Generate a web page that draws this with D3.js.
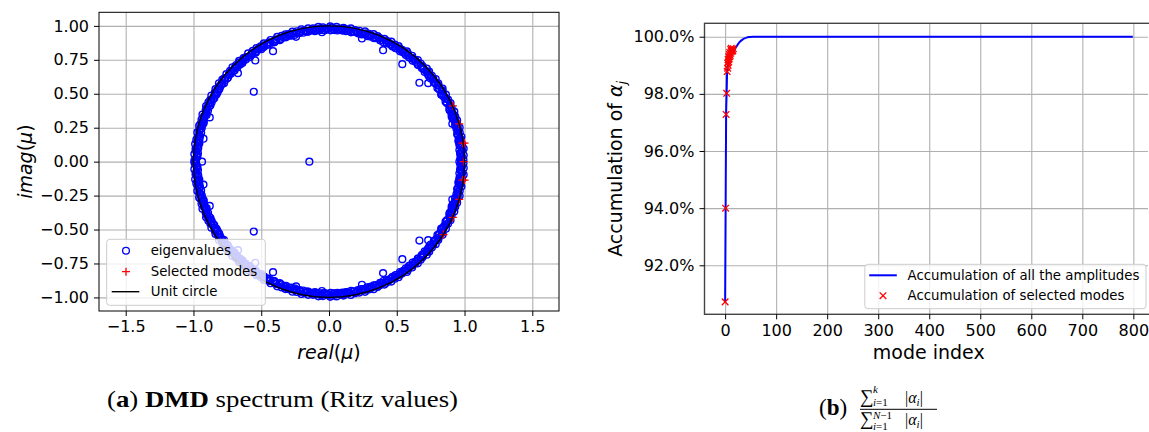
<!DOCTYPE html>
<html>
<head>
<meta charset="utf-8">
<script src="https://cdn.jsdelivr.net/npm/d3@7"></script>
<style>
  body { margin: 0; background: #fff; }
  svg { display: block; }
  .tick text { font-family: "DejaVu Sans", sans-serif; font-size: 16px; fill: #000; }
</style>
</head>
<body>
<svg id="fig" width="1149" height="432"></svg>
<script>
// ---------- panel (a) data: DMD eigenvalues (upper half, conjugates mirrored) ----------
const ringDeg = [
  0.8, 1.9, 2.7, 3.6, 4.8, 5.5, 6.9, 7.6, 8.8, 9.7, 10.6, 11.9, 12.5, 13.8, 14.6, 15.9, 16.7, 17.8, 18.9, 19.6,
  20.8, 21.7, 22.9, 23.6, 24.8, 25.7, 26.9, 27.5, 28.7, 29.8, 30.6, 31.9, 32.7, 33.5, 34.8, 35.6, 36.9, 37.7, 38.5, 39.8,
  40.6, 41.9, 42.7, 43.5, 44.8, 45.6, 46.9, 47.5, 48.8, 49.7, 50.6, 51.8, 52.5, 53.9, 54.7, 55.6, 56.8, 57.5, 58.9, 59.7,
  60.6, 61.8, 62.5, 63.9, 64.6, 65.7, 66.9, 67.6, 68.8, 69.5, 70.7, 71.9, 72.6, 73.8, 74.5, 75.7, 76.9, 77.6, 78.8, 79.5,
  80.7, 81.9, 82.6, 83.8, 84.5, 85.7, 86.8, 87.6, 88.9, 89.5, 90.7, 91.8, 92.6, 93.9, 94.5, 95.7, 96.8, 97.6, 98.9, 99.5,
  100.7, 101.8, 102.6, 103.9, 104.5, 105.7, 106.8, 107.6, 108.9, 109.5, 110.7, 111.8, 112.6, 113.9, 114.6, 115.7, 116.8, 117.6, 118.9, 119.5,
  120.7, 121.8, 122.6, 123.9, 124.6, 125.7, 126.8, 127.5, 128.9, 129.6, 130.7, 131.8, 132.5, 133.9, 134.6, 135.7, 136.8, 137.5, 138.9, 139.6,
  140.7, 141.8, 142.5, 143.9, 144.6, 145.7, 146.8, 147.5, 148.9, 149.6, 150.7, 151.8, 152.5, 153.9, 154.6, 155.7, 156.8, 157.5, 158.9, 159.6,
  160.7, 161.8, 162.5, 163.9, 164.6, 165.7, 166.8, 167.5, 168.9, 169.6, 170.7, 171.8, 172.5, 173.9, 174.6, 175.7, 176.8, 177.5, 178.9, 179.6
];
const ringMod = [
  0.992,0.978,0.995,0.969,0.986,0.998,0.975,0.990,0.968,0.983,
  0.994,0.971,0.988,0.980,0.996,0.970,0.985,0.993,0.974,0.989,
  0.979,0.995,0.968,0.987,0.982,0.995,0.972,0.990,0.977,0.994,
  0.969,0.986,0.996,0.973,0.984,0.991,0.970,0.995,0.981,0.988,
  0.970,0.993,0.979,0.995,0.975,0.986,0.990,0.971,0.995,0.983,
  0.978,0.992,0.969,0.988,0.995,0.974,0.985,0.980,0.994,0.969,
  0.989,0.976,0.996,0.972,0.987,0.993,0.970,0.984,0.991,0.979,
  0.995,0.970,0.986,0.982,0.995,0.968,0.990,0.977,0.988,0.973,
  0.995,0.981,0.969,0.992,0.985,0.975,0.994,0.970,0.987,0.996,
  0.978,0.969,0.991,0.983,0.995,0.972,0.988,0.980,0.993,0.970,
  0.985,0.996,0.974,0.989,0.979,0.995,0.969,0.986,0.992,0.976,
  0.990,0.971,0.995,0.982,0.968,0.994,0.984,0.977,0.995,0.973,
  0.987,0.980,0.993,0.969,0.991,0.978,0.996,0.970,0.985,0.989,
  0.975,0.995,0.970,0.988,0.983,0.995,0.972,0.990,0.979,0.994,
  0.969,0.986,0.992,0.974,0.996,0.981,0.969,0.993,0.984,0.977,
  0.995,0.971,0.987,0.991,0.968,0.995,0.980,0.985,0.973,0.996,
  0.976,0.990,0.969,0.988,0.994,0.978,0.983,0.995,0.970,0.986,
  0.992,0.975,0.996,0.970,0.989,0.981,0.995,0.972,0.987,0.993
];
const ringDeg2 = [
  0.3, 1.3, 2.2, 3.1, 4.2, 5.1, 6.3, 7.2, 8.1, 9.3, 10.2, 11.3, 12.1, 13.2, 14.3, 15.2, 16.1, 17.3, 18.2, 19.1,
  20.3, 21.2, 22.1, 23.3, 24.2, 25.1, 26.3, 27.2, 28.1, 29.3, 30.2, 31.1, 32.3, 33.2, 34.1, 35.3, 36.2, 37.1, 38.3, 39.2,
  40.1, 41.3, 42.2, 43.1, 44.3, 45.2, 46.1, 47.3, 48.2, 49.1, 50.3, 51.2, 52.1, 53.3, 54.2, 55.1, 56.3, 57.2, 58.1, 59.3,
  60.2, 61.1, 62.3, 63.2, 64.1, 65.3, 66.2, 67.1, 68.3, 69.2, 70.1, 71.3, 72.2, 73.1, 74.3, 75.2, 76.1, 77.3, 78.2, 79.1,
  80.3, 81.2, 82.1, 83.3, 84.2, 85.1, 86.3, 87.2, 88.1, 89.3, 90.2, 91.1, 92.3, 93.2, 94.1, 95.3, 96.2, 97.1, 98.3, 99.2,
  100.1, 101.3, 102.2, 103.1, 104.3, 105.2, 106.1, 107.3, 108.2, 109.1, 110.3, 111.2, 112.1, 113.3, 114.2, 115.1, 116.3, 117.2, 118.1, 119.3,
  120.2, 121.1, 122.3, 123.2, 124.1, 125.3, 126.2, 127.1, 128.3, 129.2, 130.1, 131.3, 132.2, 133.1, 134.3, 135.2, 136.1, 137.3, 138.2, 139.1,
  140.3, 141.2, 142.1, 143.3, 144.2, 145.1, 146.3, 147.2, 148.1, 149.3, 150.2, 151.1, 152.3, 153.2, 154.1, 155.3, 156.2, 157.1, 158.3, 159.2,
  160.1, 161.3, 162.2, 163.1, 164.3, 165.2, 166.1, 167.3, 168.2, 169.1, 170.3, 171.2, 172.1, 173.3, 174.2, 175.1, 176.3, 177.2, 178.1, 179.3
];
const ringMod2 = [
  0.975,0.969,0.981,0.972,0.978,0.966,0.983,0.970,0.976,0.968,
  0.980,0.973,0.967,0.979,0.971,0.984,0.969,0.977,0.974,0.966,
  0.982,0.970,0.978,0.968,0.975,0.985,0.971,0.967,0.980,0.973,
  0.976,0.969,0.983,0.972,0.966,0.979,0.974,0.970,0.981,0.968,
  0.977,0.972,0.984,0.967,0.975,0.971,0.980,0.969,0.978,0.973,
  0.966,0.982,0.970,0.976,0.968,0.979,0.974,0.967,0.983,0.971,
  0.977,0.969,0.975,0.981,0.972,0.966,0.978,0.970,0.984,0.973,
  0.968,0.980,0.975,0.967,0.979,0.971,0.976,0.969,0.982,0.974,
  0.966,0.978,0.972,0.985,0.970,0.977,0.968,0.981,0.973,0.967,
  0.979,0.975,0.969,0.983,0.971,0.976,0.966,0.980,0.974,0.970,
  0.978,0.968,0.982,0.972,0.975,0.967,0.979,0.973,0.984,0.969,
  0.977,0.971,0.966,0.981,0.974,0.970,0.978,0.968,0.976,0.983,
  0.972,0.967,0.980,0.975,0.969,0.979,0.973,0.966,0.982,0.971,
  0.977,0.968,0.985,0.974,0.970,0.978,0.967,0.981,0.972,0.976,
  0.969,0.983,0.973,0.966,0.979,0.975,0.971,0.980,0.968,0.977,
  0.974,0.967,0.982,0.970,0.978,0.972,0.984,0.969,0.976,0.966,
  0.981,0.973,0.979,0.968,0.975,0.971,0.983,0.967,0.977,0.974,
  0.970,0.980,0.966,0.978,0.972,0.985,0.969,0.976,0.973,0.981
];
// eigenvalues away from the ring: [real, imag], imag >= 0
const innerEig = [
  [-0.052,0.953],[-0.243,0.919],[-0.413,0.814],[-0.544,0.745],[-0.672,0.652],
  [-0.555,0.515],[-0.830,0.495],[-0.880,0.326],[-0.926,0.169],[0.098,0.973],
  [0.243,0.907],[0.399,0.821],[0.541,0.718],[0.667,0.581],[0.732,0.578],
  [0.828,0.493],[0.891,0.385],[0.905,0.331],[0.910,0.279],[0.962,0.135],
  [-0.937,0.0],[-0.145,0.0],[0.962,0.0]
];
const selectedModes = [
  [0.914,0.411],[0.961,0.278],[0.985,0.136],[1.000,0.136],[0.993,0.0],
  [0.985,-0.136],[1.000,-0.136],[0.961,-0.278],[0.914,-0.411],[0.845,-0.537]
];
const xTicksA = [-1.5, -1.0, -0.5, 0.0, 0.5, 1.0, 1.5];
const yTicksA = [-1.0, -0.75, -0.5, -0.25, 0.0, 0.25, 0.5, 0.75, 1.0];

// ---------- panel (b) data: accumulated amplitude ----------
const modeIdx  = [0, 1, 2, 3, 4, 5, 6, 8, 10, 12, 14, 16, 18, 20, 23, 26, 30, 34, 38, 42, 48, 55, 100, 200, 300, 400, 500, 600, 700, 799];
const accumAll = [90.72, 94.0, 97.28, 98.02, 98.78, 98.95, 99.05, 99.18, 99.27, 99.34, 99.40, 99.46, 99.53, 99.60, 99.68, 99.76, 99.84, 99.90, 99.94, 99.97, 99.99, 100.0, 100.0, 100.0, 100.0, 100.0, 100.0, 100.0, 100.0, 100.0];
const selIdx   = [0, 1, 2, 3, 4, 5, 6, 5, 7, 6, 8, 7, 9, 10, 8, 11, 9, 12, 13, 11, 14, 15, 12, 16];
const selAccum = [90.72, 94.0, 97.28, 98.02, 98.78, 98.9, 99.0, 99.08, 99.12, 99.2, 99.22, 99.3, 99.3, 99.35, 99.38, 99.42, 99.45, 99.48, 99.5, 99.55, 99.55, 99.5, 99.6, 99.58];
const xTicksB = [0, 100, 200, 300, 400, 500, 600, 700, 800];
const yTicksB = [92, 94, 96, 98, 100];

const svg = d3.select("#fig");
const sans = '"DejaVu Sans", sans-serif';
const serif = '"Liberation Serif", "DejaVu Serif", serif';
const gridColor = "#b0b0b0";

function styleAxis(g) {
  g.select(".domain").remove();
  g.selectAll(".tick line").attr("stroke", "#000").attr("stroke-width", 1);
}
function gridAxis(g) {
  g.select(".domain").remove();
  g.selectAll(".tick line").attr("stroke", gridColor).attr("stroke-width", 1.1);
}

// ================= panel (a) =================
const A = {left: 99, right: 559, top: 12.3, bottom: 311};
const xa = d3.scaleLinear().domain([-1.697, 1.697]).range([A.left, A.right]);
const ya = d3.scaleLinear().domain([-1.1, 1.1]).range([A.bottom, A.top]);

svg.append("clipPath").attr("id", "clipA").append("rect")
  .attr("x", A.left).attr("y", A.top).attr("width", A.right - A.left).attr("height", A.bottom - A.top);

const ga = svg.append("g");
ga.append("g").attr("transform", `translate(0,${A.bottom})`)
  .call(d3.axisBottom(xa).tickValues(xTicksA).tickSize(-(A.bottom - A.top)).tickFormat(""))
  .call(gridAxis);
ga.append("g").attr("transform", `translate(${A.left},0)`)
  .call(d3.axisLeft(ya).tickValues(yTicksA).tickSize(-(A.right - A.left)).tickFormat(""))
  .call(gridAxis);

let eig = [];
d3.zip(ringDeg, ringMod).concat(d3.zip(ringDeg2, ringMod2)).forEach(([deg, m]) => {
  const t = deg * Math.PI / 180;
  eig.push([m * Math.cos(t), m * Math.sin(t)]);
  eig.push([m * Math.cos(t), -m * Math.sin(t)]);
});
innerEig.forEach(([re, im]) => {
  eig.push([re, im]);
  if (im !== 0) eig.push([re, -im]);
});

const plotA = ga.append("g").attr("clip-path", "url(#clipA)");
plotA.selectAll("circle.eig").data(eig).enter().append("circle")
  .attr("class", "eig")
  .attr("cx", d => xa(d[0])).attr("cy", d => ya(d[1])).attr("r", 3.4)
  .attr("fill", "none").attr("stroke", "#0000ff").attr("stroke-width", 1.4);

function plusPath(cx, cy, s) {
  return `M${cx - s},${cy}H${cx + s}M${cx},${cy - s}V${cy + s}`;
}
plotA.selectAll("path.sel").data(selectedModes).enter().append("path")
  .attr("class", "sel")
  .attr("d", d => plusPath(xa(d[0]), ya(d[1]), 4))
  .attr("stroke", "#ff0000").attr("stroke-width", 1.3).attr("fill", "none");

plotA.append("ellipse")
  .attr("cx", xa(0)).attr("cy", ya(0))
  .attr("rx", xa(1) - xa(0)).attr("ry", ya(0) - ya(1))
  .attr("fill", "none").attr("stroke", "#000").attr("stroke-width", 1.4);

ga.append("rect")
  .attr("x", A.left).attr("y", A.top).attr("width", A.right - A.left).attr("height", A.bottom - A.top)
  .attr("fill", "none").attr("stroke", "#000").attr("stroke-width", 1);

ga.append("g").attr("transform", `translate(0,${A.bottom})`)
  .call(d3.axisBottom(xa).tickValues(xTicksA).tickFormat(d3.format(".1f")).tickSize(5).tickPadding(5))
  .call(styleAxis);
ga.append("g").attr("transform", `translate(${A.left},0)`)
  .call(d3.axisLeft(ya).tickValues(yTicksA).tickFormat(d3.format(".2f")).tickSize(5).tickPadding(5))
  .call(styleAxis);

// axis labels
const xlabA = ga.append("text").attr("x", (A.left + A.right) / 2).attr("y", 359)
  .attr("text-anchor", "middle").attr("font-family", sans).attr("font-size", 19);
xlabA.append("tspan").attr("font-style", "italic").text("real");
xlabA.append("tspan").text("(");
xlabA.append("tspan").attr("font-style", "italic").text("μ");
xlabA.append("tspan").text(")");

const ylabA = ga.append("text").attr("transform", `translate(32,${(A.top + A.bottom) / 2}) rotate(-90)`)
  .attr("text-anchor", "middle").attr("font-family", sans).attr("font-size", 19);
ylabA.append("tspan").attr("font-style", "italic").text("imag");
ylabA.append("tspan").text("(");
ylabA.append("tspan").attr("font-style", "italic").text("μ");
ylabA.append("tspan").text(")");

// legend (a)
const legA = ga.append("g");
legA.append("rect").attr("x", 106.7).attr("y", 239.3).attr("width", 158.6).attr("height", 66).attr("rx", 3)
  .attr("fill", "#fff").attr("fill-opacity", 0.8).attr("stroke", "#cccccc").attr("stroke-width", 1);
legA.append("circle").attr("cx", 126).attr("cy", 250.7).attr("r", 3.4)
  .attr("fill", "none").attr("stroke", "#0000ff").attr("stroke-width", 1.3);
legA.append("path").attr("d", plusPath(126, 271.7, 4)).attr("stroke", "#ff0000").attr("stroke-width", 1.3);
legA.append("line").attr("x1", 111.7).attr("x2", 139.3).attr("y1", 291.7).attr("y2", 291.7)
  .attr("stroke", "#000").attr("stroke-width", 1.4);
[["eigenvalues", 250.7], ["Selected modes", 271.7], ["Unit circle", 291.7]].forEach(([t, y]) => {
  legA.append("text").attr("x", 150.7).attr("y", y).attr("dy", "0.36em")
    .attr("font-family", sans).attr("font-size", 13.3).text(t);
});

// ================= panel (b) =================
const B = {left: 704.5, right: 1148, top: 23.3, bottom: 314.3};
const xb = d3.scaleLinear().domain([-40.4, 828.7]).range([B.left, B.right]);
const yb = d3.scaleLinear().domain([90.285, 100.47]).range([B.bottom, B.top]);

svg.append("clipPath").attr("id", "clipB").append("rect")
  .attr("x", B.left).attr("y", B.top).attr("width", B.right - B.left).attr("height", B.bottom - B.top);

const gb = svg.append("g");
gb.append("g").attr("transform", `translate(0,${B.bottom})`)
  .call(d3.axisBottom(xb).tickValues(xTicksB).tickSize(-(B.bottom - B.top)).tickFormat(""))
  .call(gridAxis);
gb.append("g").attr("transform", `translate(${B.left},0)`)
  .call(d3.axisLeft(yb).tickValues(yTicksB).tickSize(-(B.right - B.left)).tickFormat(""))
  .call(gridAxis);

const plotB = gb.append("g").attr("clip-path", "url(#clipB)");
plotB.append("path")
  .datum(d3.zip(modeIdx, accumAll))
  .attr("d", d3.line().x(d => xb(d[0])).y(d => yb(d[1])).curve(d3.curveMonotoneX))
  .attr("fill", "none").attr("stroke", "#0000ff").attr("stroke-width", 2);

function crossPath(cx, cy, s) {
  return `M${cx - s},${cy - s}L${cx + s},${cy + s}M${cx - s},${cy + s}L${cx + s},${cy - s}`;
}
plotB.selectAll("path.selx").data(d3.zip(selIdx, selAccum)).enter().append("path")
  .attr("class", "selx")
  .attr("d", d => crossPath(xb(d[0]), yb(d[1]), 3.3))
  .attr("stroke", "#ff0000").attr("stroke-width", 1.3).attr("fill", "none");

gb.append("rect")
  .attr("x", B.left).attr("y", B.top).attr("width", B.right - B.left + 4).attr("height", B.bottom - B.top)
  .attr("fill", "none").attr("stroke", "#444").attr("stroke-width", 1.4);

gb.append("g").attr("transform", `translate(0,${B.bottom})`)
  .call(d3.axisBottom(xb).tickValues(xTicksB).tickFormat(d3.format("d")).tickSize(5).tickPadding(5))
  .call(styleAxis);
gb.append("g").attr("transform", `translate(${B.left},0)`)
  .call(d3.axisLeft(yb).tickValues(yTicksB).tickFormat(d => d.toFixed(1) + "%").tickSize(5).tickPadding(5))
  .call(styleAxis);

gb.append("text").attr("x", (B.left + 1153) / 2).attr("y", 359)
  .attr("text-anchor", "middle").attr("font-family", sans).attr("font-size", 19).text("mode index");

const ylabB = gb.append("text").attr("transform", `translate(622,${(B.top + B.bottom) / 2}) rotate(-90)`)
  .attr("text-anchor", "middle").attr("font-family", sans).attr("font-size", 19);
ylabB.append("tspan").text("Accumulation of ");
ylabB.append("tspan").attr("font-style", "italic").text("α");
ylabB.append("tspan").attr("font-style", "italic").attr("font-size", 13).attr("dy", 4).text("j");

// legend (b)
const legB = gb.append("g");
legB.append("rect").attr("x", 864.8).attr("y", 264.3).attr("width", 281.2).attr("height", 44.4).attr("rx", 3)
  .attr("fill", "#fff").attr("fill-opacity", 0.8).attr("stroke", "#cccccc").attr("stroke-width", 1);
legB.append("line").attr("x1", 869.2).attr("x2", 896.8).attr("y1", 275.3).attr("y2", 275.3)
  .attr("stroke", "#0000ff").attr("stroke-width", 2);
legB.append("path").attr("d", crossPath(883, 295.7, 3.3)).attr("stroke", "#ff0000").attr("stroke-width", 1.3);
[["Accumulation of all the amplitudes", 275.3], ["Accumulation of selected modes", 295.7]].forEach(([t, y]) => {
  legB.append("text").attr("x", 907.6).attr("y", y).attr("dy", "0.36em")
    .attr("font-family", sans).attr("font-size", 13.3).text(t);
});

// ================= captions =================
const capA = svg.append("text").attr("x", 107).attr("y", 407)
  .attr("font-family", serif).attr("font-size", 23)
  .attr("textLength", 351).attr("lengthAdjust", "spacingAndGlyphs");
capA.append("tspan").text("(");
capA.append("tspan").attr("font-weight", "bold").text("a");
capA.append("tspan").text(") ");
capA.append("tspan").attr("font-weight", "bold").text("DMD");
capA.append("tspan").text(" spectrum (Ritz values)");

const capB = svg.append("text").attr("x", 819).attr("y", 415)
  .attr("font-family", serif).attr("font-size", 23);
capB.append("tspan").text("(");
capB.append("tspan").attr("font-weight", "bold").text("b");
capB.append("tspan").text(")");

// fraction: sum over |alpha_i|, numerator to k, denominator to N-1
function sumTerm(baseY, supText, supY, subY) {
  const g = svg.append("g").attr("font-family", serif);
  g.append("text").attr("x", 860).attr("y", baseY).attr("font-size", 19).text("∑");
  const sup = g.append("text").attr("x", 873).attr("y", supY).attr("font-size", 11);
  supText.forEach(([t, it]) => sup.append("tspan").attr("font-style", it ? "italic" : null).text(t));
  const sub = g.append("text").attr("x", 873).attr("y", subY).attr("font-size", 11);
  sub.append("tspan").attr("font-style", "italic").text("i");
  sub.append("tspan").text("=1");
  const abs = g.append("text").attr("x", 905).attr("y", baseY).attr("font-size", 16);
  abs.append("tspan").text("|");
  abs.append("tspan").attr("font-style", "italic").text("α");
  abs.append("tspan").attr("font-style", "italic").attr("font-size", 11).attr("dy", 3).text("i");
  abs.append("tspan").attr("dy", -3).text("|");
}
sumTerm(403, [["k", true]], 393, 406);
svg.append("line").attr("x1", 860).attr("x2", 937).attr("y1", 409.3).attr("y2", 409.3)
  .attr("stroke", "#000").attr("stroke-width", 1);
sumTerm(425, [["N", true], ["−1", false]], 419, 430);
</script>
</body>
</html>
